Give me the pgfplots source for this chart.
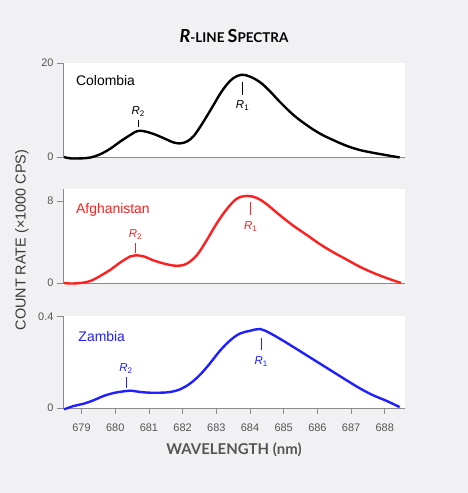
\documentclass[border=0pt]{standalone}
\usepackage{fontspec}
\setmainfont{Liberation Sans}
\newfontfamily\headfont{Lato}
\usepackage{pgfplots}
\pgfplotsset{compat=1.18}
\definecolor{bgcol}{HTML}{F1F1F3}
\definecolor{axgray}{HTML}{8A8A8A}
\definecolor{tickgray}{HTML}{555555}
\definecolor{labgray}{HTML}{3A3A3A}
\definecolor{specred}{HTML}{FF1F1F}
\definecolor{specblue}{HTML}{1F1FFF}
\pgfplotsset{
  panel/.style={
    scale only axis, width=342bp,
    xmin=678.45, xmax=688.6,
    axis x line*=bottom, axis y line*=left,
    axis line style={draw=axgray, line width=0.8pt, -},
    x axis line style={-}, y axis line style={-},
    tick style={draw=axgray, line width=0.8pt},
    tick align=outside, major tick length=6bp,
    clip=false,
    axis background/.style={fill=white},
    tick label style={font=\fontsize{11}{11}\selectfont, text=tickgray},
    /pgf/number format/assume math mode=true,
    xtick=\empty,
  },
  spec/.style={line width=2.4pt, smooth, tension=0.6, mark=none, #1},
}
\newcommand{\plab}[1]{\fontsize{14}{14}\selectfont #1}
\newcommand{\rlab}[2]{\fontsize{11.5}{12}\selectfont\textit{R}\textsubscript{#2}}

\begin{document}
\begin{tikzpicture}
\fill[bgcol] (0,0) rectangle (468bp,493bp);

% title
\node[font=\headfont\bfseries] at (234bp,457bp)
  {{\fontsize{18}{18}\selectfont\itshape R}{\fontsize{13.5}{14}\selectfont -LINE }{\fontsize{18}{18}\selectfont S}{\fontsize{13.5}{14}\selectfont PECTRA}};

% Colombia
\begin{axis}[panel, at={(63bp,336bp)}, anchor=south west, height=94bp,
  ymin=0, ymax=20, ytick={0,20}]
\addplot[spec=black] coordinates {
(678.48,0.0) (678.67,-0.3) (678.97,-0.3) (679.27,-0.1) (679.56,0.6)
(679.86,1.8) (680.15,3.3) (680.45,4.7) (680.65,5.5) (680.84,5.5)
(681.14,4.9) (681.44,4.0) (681.73,3.1) (681.93,2.9) (682.13,3.3)
(682.32,4.4) (682.52,6.4) (682.72,8.7) (682.92,11.1) (683.11,13.4)
(683.31,15.4) (683.51,16.8) (683.75,17.5) (684.00,17.1) (684.30,15.9)
(684.59,14.0) (684.89,11.7) (685.28,9.0) (685.68,6.8) (686.07,5.0)
(686.47,3.6) (686.86,2.4) (687.25,1.5) (687.65,0.9) (688.04,0.4)
(688.44,-0.1)};
\node[anchor=west, text=black] at (rel axis cs:0.028,0.815) {\plab{Colombia}};
\draw[black, line width=0.7pt] (680.68,6.3) -- (680.68,7.9);
\node[text=black] at (680.68,9.6) {\rlab{}{2}};
\draw[black, line width=0.7pt] (683.78,16.0) -- (683.78,13.2);
\node[text=black] at (683.78,11.0) {\rlab{}{1}};
\end{axis}

% Afghanistan
\begin{axis}[panel, at={(63bp,210bp)}, anchor=south west, height=94bp,
  ymin=0, ymax=9.17, ytick={0,8}]
\addplot[spec=specred] coordinates {
(678.48,0.0) (678.67,-0.05) (678.97,0.0) (679.27,0.2) (679.56,0.7)
(679.86,1.3) (680.15,2.0) (680.45,2.6) (680.60,2.7) (680.84,2.6)
(681.14,2.2) (681.44,1.9) (681.73,1.7) (681.93,1.7) (682.13,1.9)
(682.42,2.7) (682.72,4.2) (683.01,5.8) (683.31,7.2) (683.60,8.2)
(683.90,8.5) (684.20,8.3) (684.49,7.7) (684.89,6.6) (685.28,5.6)
(685.68,4.7) (686.07,3.8) (686.47,3.0) (686.86,2.3) (687.25,1.6)
(687.65,1.0) (688.04,0.5) (688.48,0.0)};
\node[anchor=west, text=specred] at (rel axis cs:0.028,0.78) {\plab{Afghanistan}};
\draw[specred, line width=0.7pt] (680.60,2.95) -- (680.60,3.9);
\node[text=specred] at (680.60,4.75) {\rlab{}{2}};
\draw[specred, line width=0.7pt] (684.02,7.9) -- (684.02,6.6);
\node[text=specred] at (684.02,5.5) {\rlab{}{1}};
\end{axis}

% Zambia
\begin{axis}[panel, at={(63bp,85bp)}, anchor=south west, height=92bp,
  ymin=0, ymax=0.403, ytick={0,0.4},
  xtick={679,680,...,688},
  xticklabel style={yshift=-6bp},
  yticklabel style={/pgf/number format/fixed}]
\addplot[spec=specblue] coordinates {
(678.48,-0.006) (678.77,0.009) (679.07,0.019) (679.36,0.034) (679.66,0.053)
(679.96,0.066) (680.25,0.073) (680.45,0.076) (680.75,0.070) (681.04,0.067)
(681.34,0.067) (681.63,0.070) (681.93,0.082) (682.22,0.107) (682.52,0.146)
(682.82,0.197) (683.11,0.251) (683.41,0.296) (683.70,0.326) (684.00,0.338)
(684.30,0.346) (684.59,0.328) (684.89,0.303) (685.28,0.268) (685.68,0.231)
(686.07,0.195) (686.47,0.158) (686.86,0.122) (687.25,0.087) (687.65,0.056)
(688.04,0.032) (688.44,0.004)};
\node[anchor=west, text=specblue] at (rel axis cs:0.035,0.78) {\plab{Zambia}};
\draw[specblue, line width=0.7pt] (680.32,0.088) -- (680.32,0.136);
\node[text=specblue] at (680.32,0.173) {\rlab{}{2}};
\draw[specblue, line width=0.7pt] (684.33,0.305) -- (684.33,0.253);
\node[text=specblue] at (684.33,0.205) {\rlab{}{1}};
\end{axis}

% axis titles
\node[text=tickgray, font=\headfont\bfseries\fontsize{15}{15}\selectfont] at (234bp,43bp)
  {WAVELENGTH (nm)};
\node[rotate=90, text=labgray, font=\fontsize{14.5}{15}\selectfont] at (22bp,253bp)
  {COUNT RATE (×1000 CPS)};
\end{tikzpicture}
\end{document}
